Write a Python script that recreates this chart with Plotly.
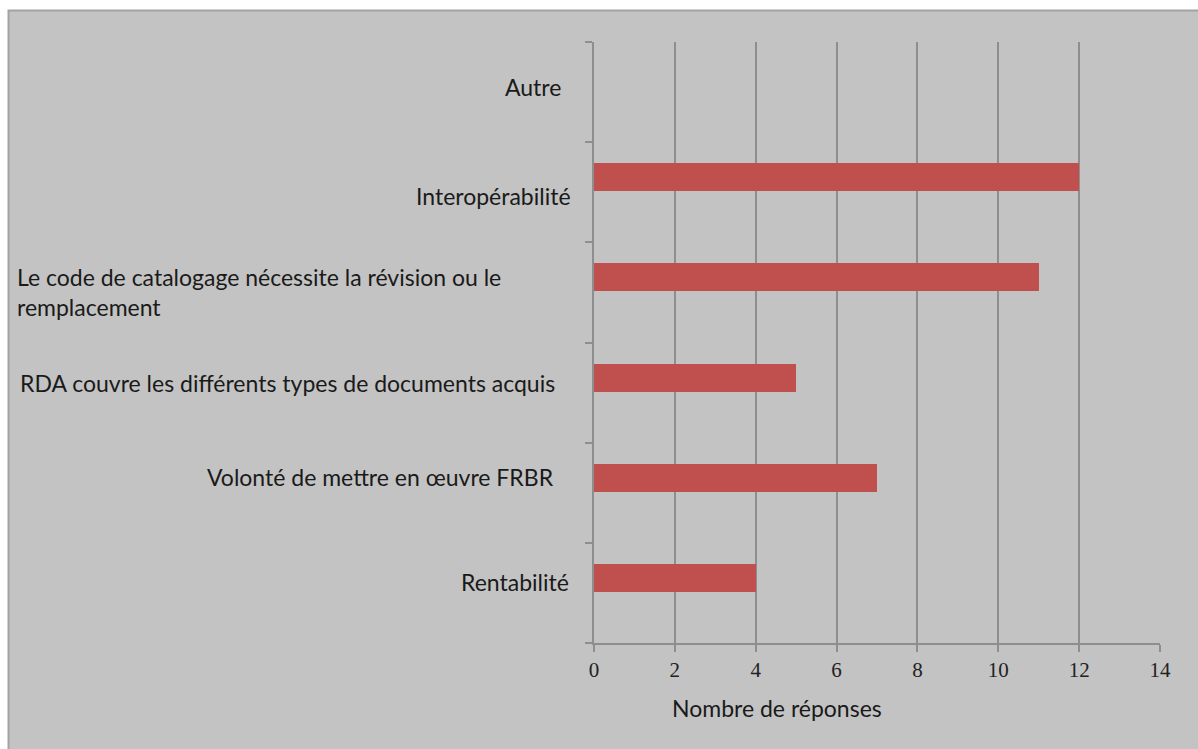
import plotly.graph_objects as go

# Survey data: motives for adopting RDA (bottom to top)
categories = [
    "Rentabilité",
    "Volonté de mettre en œuvre FRBR",
    "RDA couvre les différents types de documents acquis",
    "Le code de catalogage nécessite la révision ou le remplacement",
    "Interopérabilité",
    "Autre",
]
responses = [4, 7, 5, 11, 12, 0]
x_ticks = [0, 2, 4, 6, 8, 10, 12, 14]
x_title = "Nombre de réponses"

# Label placement: (text, anchor, horizontal shift from axis px, vertical shift px)
label_layout = [
    ("Rentabilité", "right", -23, 11),
    ("Volonté de mettre en œuvre FRBR", "right", -38, 16),
    ("RDA couvre les différents types de documents acquis", "left", -576, 10),
    ("Le code de catalogage nécessite la révision ou le<br>remplacement", "left", -579, 0),
    ("Interopérabilité", "right", -21, -4),
    ("Autre", "right", -31, 5),
]

BAR = "#c0504d"
GRID = "#8e8e8e"
BG = "#c3c3c3"
TEXT = "#1a1a1a"
LABEL_FONT = "Lato, Liberation Sans, sans-serif"
LABEL_SIZE = 23

L, R, T, B = 594, 38, 42, 106
W, H = 1198, 749
pw, ph = W - L - R, H - T - B

fig = go.Figure()
fig.add_trace(go.Bar(
    x=responses,
    y=categories,
    orientation="h",
    marker=dict(color=BAR, line=dict(width=0)),
    width=0.28,
    offset=0.01,
    hoverinfo="x+y",
))

annotations = []
for cat, (txt, anchor, dx, dy) in zip(categories, label_layout):
    annotations.append(dict(
        text=txt, xref="paper", yref="y", x=0, y=cat,
        xanchor=anchor, yanchor="middle", xshift=dx, yshift=dy,
        showarrow=False, align="left",
        font=dict(family=LABEL_FONT, size=LABEL_SIZE, color=TEXT),
    ))
annotations.append(dict(
    text=x_title, xref="paper", yref="paper", x=0, y=0,
    xanchor="center", yanchor="middle", xshift=183, yshift=-65,
    showarrow=False,
    font=dict(family=LABEL_FONT, size=LABEL_SIZE, color=TEXT),
))

# Grey chart frame behind the plot area
fx0 = (8.5 - L) / pw
fy1 = (H - B - 10.5) / ph
fig.add_shape(
    type="rect", xref="paper", yref="paper", layer="below",
    x0=fx0, x1=1.2, y0=-0.3, y1=fy1,
    fillcolor=BG, line=dict(color="#a3a3a3", width=2),
)

fig.update_layout(
    width=W, height=H,
    margin=dict(l=L, r=R, t=T, b=B, pad=0),
    paper_bgcolor="white",
    plot_bgcolor="white",
    showlegend=False,
    bargap=0,
    annotations=annotations,
    xaxis=dict(
        range=[0, 14], tickvals=x_ticks, ticktext=[str(v) for v in x_ticks],
        showgrid=True, gridcolor=GRID, gridwidth=2,
        showline=True, linecolor=GRID, linewidth=2,
        ticks="outside", ticklen=7, tickwidth=2, tickcolor=GRID,
        tickfont=dict(family="Liberation Serif, serif", size=21, color="#222222"),
        zeroline=False, fixedrange=True,
    ),
    yaxis=dict(
        type="category", categoryorder="array", categoryarray=categories,
        range=[-0.5, 5.5], showticklabels=False,
        showline=True, linecolor=GRID, linewidth=2,
        ticks="outside", tickson="boundaries", ticklen=7, tickwidth=2, tickcolor=GRID,
        showgrid=False, zeroline=False, fixedrange=True,
    ),
)

fig.write_html("out.html")
